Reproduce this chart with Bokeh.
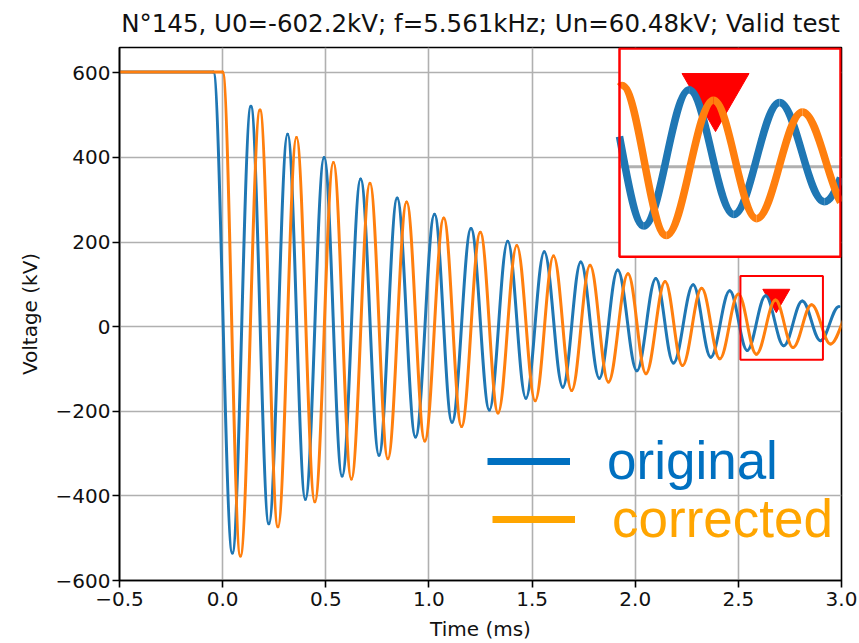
from bokeh.plotting import figure
from bokeh.models import Range1d, FixedTicker, ColumnDataSource, Legend, LegendItem
from bokeh.embed import file_html
from bokeh.resources import INLINE

# ---------------- data ----------------
# extrema of the oscillation (time in ms, voltage in kV); first two points = pre-trigger level
orig_t = [-0.5, -0.045, 0.047, 0.137, 0.224, 0.315, 0.401, 0.492, 0.579, 0.669, 0.758, 0.846,
          0.935, 1.027, 1.112, 1.204, 1.293, 1.382, 1.470, 1.559, 1.649, 1.736,
          1.826, 1.915, 2.008, 2.100, 2.185, 2.281, 2.366, 2.458, 2.543, 2.632,
          2.720, 2.810, 2.898, 2.988]
orig_v = [602, 602, -535, 521, -466, 455, -408, 400, -353, 349, -304, 304,
          -261, 266, -226, 232, -197, 202, -169, 177, -143, 153,
          -122, 134, -104, 114, -86, 99, -72, 85, -56, 73,
          -45, 61, -33, 48]
corr_t = [-0.5, 0.0, 0.086, 0.181, 0.268, 0.358, 0.447, 0.537, 0.624, 0.714, 0.801, 0.892,
          0.980, 1.072, 1.158, 1.249, 1.335, 1.426, 1.515, 1.604, 1.692, 1.781,
          1.870, 1.965, 2.052, 2.145, 2.229, 2.322, 2.410, 2.500, 2.587, 2.680,
          2.765, 2.855, 2.947, 3.045]
corr_v = [602, 602, -542, 512, -473, 447, -414, 388, -360, 339, -312, 295,
          -270, 257, -236, 223, -204, 192, -175, 167, -151, 145,
          -131, 125, -111, 107, -92, 91, -76, 77, -65, 63,
          -49, 52, -41, 40]

marker_t = [2.684]
marker_v = [70]
zoom_box_t = [2.51, 2.91]
zoom_box_v = [-78, 120]
inset_t = [2.495, 2.930]
inset_v = [-85, 112]

x_ticks = [-0.5, 0.0, 0.5, 1.0, 1.5, 2.0, 2.5, 3.0]
x_tick_labels = ["\u22120.5", "0.0", "0.5", "1.0", "1.5", "2.0", "2.5", "3.0"]
y_ticks = [-600, -400, -200, 0, 200, 400, 600]
y_tick_labels = ["\u2212600", "\u2212400", "\u2212200", "0", "200", "400", "600"]

title_text = "N\u00b0145, U0=-602.2kV; f=5.561kHz; Un=60.48kV; Valid test"
legend_labels = ["original", "corrected"]

# ---------------- style / layout constants ----------------
BLUE = "#1f77b4"
ORANGE = "#ff7f0e"
K = 0.364  # control-point fraction for smooth half-waves
W, H = 859, 643
FRAME_L, FRAME_R, FRAME_T, FRAME_B = 119, 841, 45, 580
INSET_L, INSET_R, INSET_T, INSET_B = 619, 840, 46, 255   # inset box in canvas pixels


def bezier_segments(ts, vs):
    segs = []
    for a, b, va, vb in zip(ts[:-1], ts[1:], vs[:-1], vs[1:]):
        segs.append([(a, va), (a + K * (b - a), va), (b - K * (b - a), vb), (b, vb)])
    return segs


def split(seg, s):
    p0, p1, p2, p3 = seg
    lerp = lambda u, v: (u[0] + s * (v[0] - u[0]), u[1] + s * (v[1] - u[1]))
    p01, p12, p23 = lerp(p0, p1), lerp(p1, p2), lerp(p2, p3)
    p012, p123 = lerp(p01, p12), lerp(p12, p23)
    m = lerp(p012, p123)
    return [p0, p01, p012, m], [m, p123, p23, p3]


def param_at_x(seg, xc):
    lo, hi = 0.0, 1.0
    for _ in range(60):
        s = 0.5 * (lo + hi)
        x = seg[0][0] * (1 - s) ** 3 + 3 * seg[1][0] * (1 - s) ** 2 * s + \
            3 * seg[2][0] * (1 - s) * s ** 2 + seg[3][0] * s ** 3
        if x < xc:
            lo = s
        else:
            hi = s
    return 0.5 * (lo + hi)


def to_source(segs):
    return ColumnDataSource(dict(
        x0=[s[0][0] for s in segs], y0=[s[0][1] for s in segs],
        cx0=[s[1][0] for s in segs], cy0=[s[1][1] for s in segs],
        cx1=[s[2][0] for s in segs], cy1=[s[2][1] for s in segs],
        x1=[s[3][0] for s in segs], y1=[s[3][1] for s in segs]))


def clipped(segs, lo, hi):
    out = []
    for seg in segs:
        if seg[3][0] <= lo or seg[0][0] >= hi:
            continue
        if seg[0][0] < lo:
            seg = split(seg, param_at_x(seg, lo))[1]
        if seg[3][0] > hi:
            seg = split(seg, param_at_x(seg, hi))[0]
        out.append(seg)
    return out


segs_orig = bezier_segments(orig_t, orig_v)
segs_corr = bezier_segments(corr_t, corr_v)

# ---------------- main figure ----------------
p = figure(width=W, height=H, x_range=Range1d(-0.5, 3.0), y_range=Range1d(-600, 660),
           output_backend="svg", toolbar_location=None,
           min_border_left=FRAME_L, min_border_right=W - FRAME_R,
           min_border_top=FRAME_T, min_border_bottom=H - FRAME_B)
p.title.text = title_text
p.title.align = "center"
p.title.vertical_align = "top"
p.title.text_font = "DejaVu Sans"
p.title.text_font_size = "24.5px"
p.title.text_font_style = "normal"
p.title.text_color = "#111111"
p.title.standoff = 16

p.outline_line_color = "black"
p.outline_line_width = 1.6
p.outline_line_alpha = 1

for ax in (p.xaxis[0], p.yaxis[0]):
    ax.axis_line_color = "black"
    ax.axis_line_width = 1.6
    ax.major_tick_line_width = 1.6
    ax.major_tick_out = 7
    ax.major_tick_in = 0
    ax.minor_tick_out = 0
    ax.minor_tick_in = 0
    ax.major_label_text_font = "DejaVu Sans"
    ax.major_label_text_font_size = "20px"
    ax.major_label_text_color = "#111111"
    ax.axis_label_text_font = "DejaVu Sans"
    ax.axis_label_text_font_size = "20px"
    ax.axis_label_text_font_style = "normal"
    ax.axis_label_text_color = "#111111"

p.xaxis.ticker = FixedTicker(ticks=x_ticks)
p.xaxis.major_label_overrides = dict(zip(x_ticks, x_tick_labels))
p.yaxis.ticker = FixedTicker(ticks=y_ticks)
p.yaxis.major_label_overrides = dict(zip(y_ticks, y_tick_labels))
p.xaxis.axis_label = "Time (ms)"
p.yaxis.axis_label = "Voltage (kV)"
p.xaxis.major_label_standoff = 4
p.xaxis.axis_label_standoff = 8
p.yaxis.major_label_standoff = 2
p.yaxis.axis_label_standoff = 11

p.xgrid.ticker = FixedTicker(ticks=x_ticks)
p.ygrid.ticker = FixedTicker(ticks=y_ticks)
p.grid.grid_line_color = "#b0b0b0"
p.grid.grid_line_width = 1.6

bz = dict(x0="x0", y0="y0", x1="x1", y1="y1", cx0="cx0", cy0="cy0", cx1="cx1", cy1="cy1")

p.scatter(x=marker_t, y=marker_v, marker="inverted_triangle", size=27,
          fill_color="red", line_color="red")
p.bezier(source=to_source(segs_orig), line_color=BLUE, line_width=3, line_cap="round", **bz)
p.bezier(source=to_source(segs_corr), line_color=ORANGE, line_width=3, line_cap="round", **bz)
p.quad(left=[zoom_box_t[0]], right=[zoom_box_t[1]], bottom=[zoom_box_v[0]], top=[zoom_box_v[1]],
       fill_alpha=0, line_color="red", line_width=2)

# ---------------- zoomed inset (drawn through extra ranges) ----------------
sx = (inset_t[1] - inset_t[0]) / (INSET_R - INSET_L)
sy = (inset_v[1] - inset_v[0]) / (INSET_B - INSET_T)
p.extra_x_ranges = {"inset": Range1d(inset_t[0] - (INSET_L - FRAME_L) * sx,
                                     inset_t[1] + (FRAME_R - INSET_R) * sx)}
p.extra_y_ranges = {"inset": Range1d(inset_v[0] - (FRAME_B - INSET_B) * sy,
                                     inset_v[1] + (INSET_T - FRAME_T) * sy)}
ins = dict(x_range_name="inset", y_range_name="inset")

p.quad(left=[inset_t[0]], right=[inset_t[1]], bottom=[inset_v[0]], top=[inset_v[1]],
       fill_color="white", line_color=None, **ins)
grid_in = [v for v in y_ticks if inset_v[0] < v < inset_v[1]]
p.segment(x0=[inset_t[0]] * len(grid_in), x1=[inset_t[1]] * len(grid_in), y0=grid_in, y1=grid_in,
          line_color="#b0b0b0", line_width=3, **ins)
p.scatter(x=marker_t, y=marker_v, marker="inverted_triangle", size=67,
          fill_color="red", line_color="red", **ins)
p.bezier(source=to_source(clipped(segs_orig, *inset_t)), line_color=BLUE, line_width=7.5,
         line_cap="butt", **ins, **bz)
p.bezier(source=to_source(clipped(segs_corr, *inset_t)), line_color=ORANGE, line_width=7.5,
         line_cap="butt", **ins, **bz)
p.quad(left=[inset_t[0]], right=[inset_t[1]], bottom=[inset_v[0]], top=[inset_v[1]],
       fill_alpha=0, line_color="red", line_width=2.5, **ins)

# ---------------- legend (large coloured labels) ----------------
nan = float("nan")
r_leg1 = p.line(x=[nan], y=[nan], line_color="#0070C0", line_width=7)
r_leg2 = p.line(x=[nan], y=[nan], line_color="#FFA500", line_width=7)
leg_common = dict(orientation="vertical", glyph_width=83, glyph_height=60, label_height=60,
                  label_standoff=37, padding=0, margin=0, border_line_color=None,
                  background_fill_alpha=0, label_text_font="Liberation Sans",
                  label_text_font_size="53px")
leg1 = Legend(items=[LegendItem(label=legend_labels[0], renderers=[r_leg1])],
              location=(368, 89), label_text_color="#0070C0", **leg_common)
leg2 = Legend(items=[LegendItem(label=legend_labels[1], renderers=[r_leg2])],
              location=(373, 31), label_text_color="#FFA500", **leg_common)
p.add_layout(leg1)
p.add_layout(leg2)

open("out.html", "w").write(file_html(p, INLINE))
